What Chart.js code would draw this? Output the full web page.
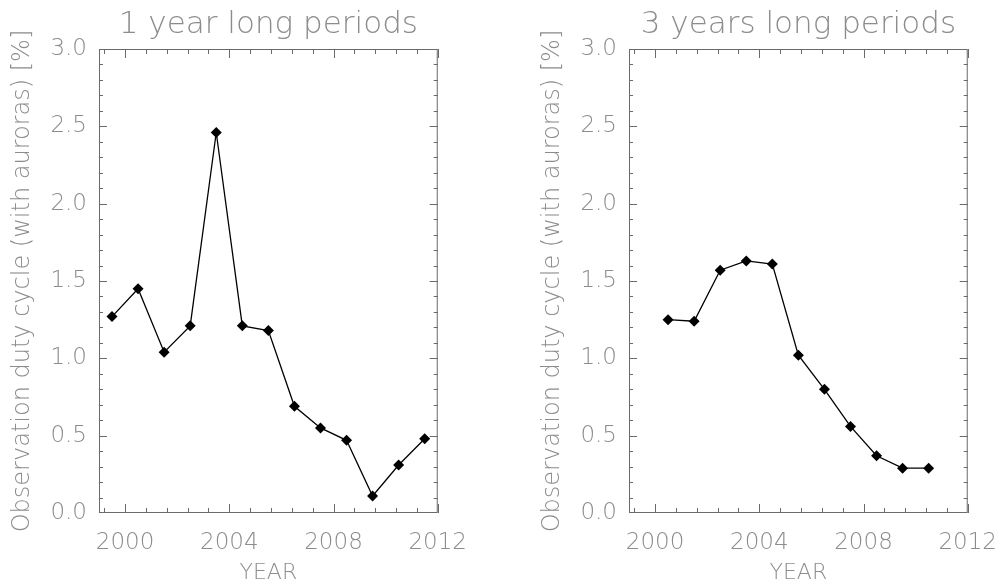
<!DOCTYPE html>
<html>
<head>
<meta charset="utf-8">
<script src="https://cdn.jsdelivr.net/npm/chart.js@4.4.1/dist/chart.umd.min.js"></script>
<style>
  html, body { margin: 0; padding: 0; background: #fff; }
  body { width: 998px; height: 583px; position: relative; overflow: hidden; }
  canvas { position: absolute; top: 0; }
  #left { left: 0; }
  #right { left: 530px; }
</style>
</head>
<body>
<canvas id="left" width="475" height="583"></canvas>
<canvas id="right" width="475" height="583"></canvas>
<script>
// values
var yearsOneYear = [1999.5, 2000.5, 2001.5, 2002.5, 2003.5, 2004.5, 2005.5, 2006.5, 2007.5, 2008.5, 2009.5, 2010.5, 2011.5];
var dutyOneYear = [1.27, 1.45, 1.04, 1.21, 2.46, 1.21, 1.18, 0.69, 0.55, 0.47, 0.11, 0.31, 0.48];

var yearsThreeYear = [2000.5, 2001.5, 2002.5, 2003.5, 2004.5, 2005.5, 2006.5, 2007.5, 2008.5, 2009.5, 2010.5];
var dutyThreeYear = [1.25, 1.24, 1.57, 1.63, 1.61, 1.02, 0.80, 0.56, 0.37, 0.29, 0.29];

var xTicks = [2000, 2004, 2008, 2012];
var yTicks = [0.0, 0.5, 1.0, 1.5, 2.0, 2.5, 3.0];

var axisColor = '#6a6a6a';
var textColor = '#8c8c8c';
var fontFamily = "'DejaVu Sans', sans-serif";

// IDL-style box with inward ticks on all four sides
var boxTicks = {
  id: 'boxTicks',
  afterDraw: function(chart) {
    var ctx = chart.ctx, a = chart.chartArea;
    var xs = chart.scales.x, ys = chart.scales.y;
    ctx.save();
    ctx.strokeStyle = axisColor;
    ctx.lineWidth = 1;
    ctx.strokeRect(a.left + 0.5, a.top + 0.5, a.right - a.left - 1, a.bottom - a.top - 1);
    ctx.beginPath();
    // x: major every 4 years, minor every 0.8
    for (var v = xTicks[0] - 0.8; v <= xs.max + 1e-6; v += 0.8) {
      if (v < xs.min) continue;
      var major = Math.abs((v - xTicks[0]) / 4 - Math.round((v - xTicks[0]) / 4)) < 1e-6;
      var len = major ? 9 : 5;
      var px = Math.round(xs.getPixelForValue(v)) + 0.5;
      ctx.moveTo(px, a.bottom); ctx.lineTo(px, a.bottom - len);
      ctx.moveTo(px, a.top); ctx.lineTo(px, a.top + len);
    }
    // y: major every 0.5, minor every 0.1
    for (var i = 1; i < 30; i++) {
      var val = i / 10;
      var lenY = (i % 5 === 0) ? 8 : 4;
      var py = Math.round(ys.getPixelForValue(val)) + 0.5;
      ctx.moveTo(a.left, py); ctx.lineTo(a.left + lenY, py);
      ctx.moveTo(a.right, py); ctx.lineTo(a.right - lenY, py);
    }
    ctx.stroke();
    ctx.restore();
  }
};

function makeChart(id, title, years, duty) {
  var points = years.map(function(x, i) { return { x: x, y: duty[i] }; });
  return new Chart(document.getElementById(id), {
    type: 'line',
    data: {
      datasets: [{
        data: points,
        borderColor: '#000',
        borderWidth: 1.3,
        backgroundColor: '#000',
        pointStyle: 'rectRot',
        pointRadius: 5.5,
        pointBorderWidth: 0,
        tension: 0
      }]
    },
    options: {
      responsive: false,
      animation: false,
      layout: { padding: 0 },
      plugins: {
        legend: { display: false },
        tooltip: { enabled: false }
      },
      scales: {
        // top axis only carries the panel title, centred over the plot box
        xTop: {
          type: 'linear',
          position: 'top',
          min: 1999,
          max: 2012,
          grid: { display: false },
          border: { display: false },
          ticks: { display: false, padding: 0 },
          afterFit: function(s) { s.height = 49; },
          title: {
            display: true,
            text: title,
            color: textColor,
            font: { family: fontFamily, size: 31, weight: 200, lineHeight: 1.2 },
            padding: { top: 6, bottom: 0 }
          }
        },
        x: {
          type: 'linear',
          position: 'bottom',
          min: 1999,
          max: 2012,
          grid: { display: false },
          border: { display: false },
          afterBuildTicks: function(s) { s.ticks = xTicks.map(function(v) { return { value: v }; }); },
          afterFit: function(s) { s.height = 70; },
          ticks: {
            color: textColor,
            padding: 8,
            maxRotation: 0,
            font: { family: fontFamily, size: 23, weight: 200 },
            callback: function(v) { return String(v); }
          },
          title: {
            display: true,
            text: 'YEAR',
            color: textColor,
            font: { family: fontFamily, size: 22, weight: 200, lineHeight: 0.9 },
            padding: 0
          }
        },
        y: {
          type: 'linear',
          min: 0,
          max: 3,
          grid: { display: false },
          border: { display: false },
          afterBuildTicks: function(s) { s.ticks = yTicks.map(function(v) { return { value: v }; }); },
          afterFit: function(s) { s.width = 99; },
          ticks: {
            color: textColor,
            padding: 4,
            font: { family: fontFamily, size: 23, weight: 200 },
            callback: function(v) { return v.toFixed(1); }
          },
          title: {
            display: true,
            text: 'Observation duty cycle (with auroras) [%]',
            color: textColor,
            font: { family: fontFamily, size: 24, weight: 200, lineHeight: 1.2 },
            padding: { top: 8, bottom: 0 }
          }
        }
      }
    },
    plugins: [boxTicks]
  });
}

makeChart('left', '1 year long periods', yearsOneYear, dutyOneYear);
makeChart('right', '3 years long periods', yearsThreeYear, dutyThreeYear);
</script>
</body>
</html>
